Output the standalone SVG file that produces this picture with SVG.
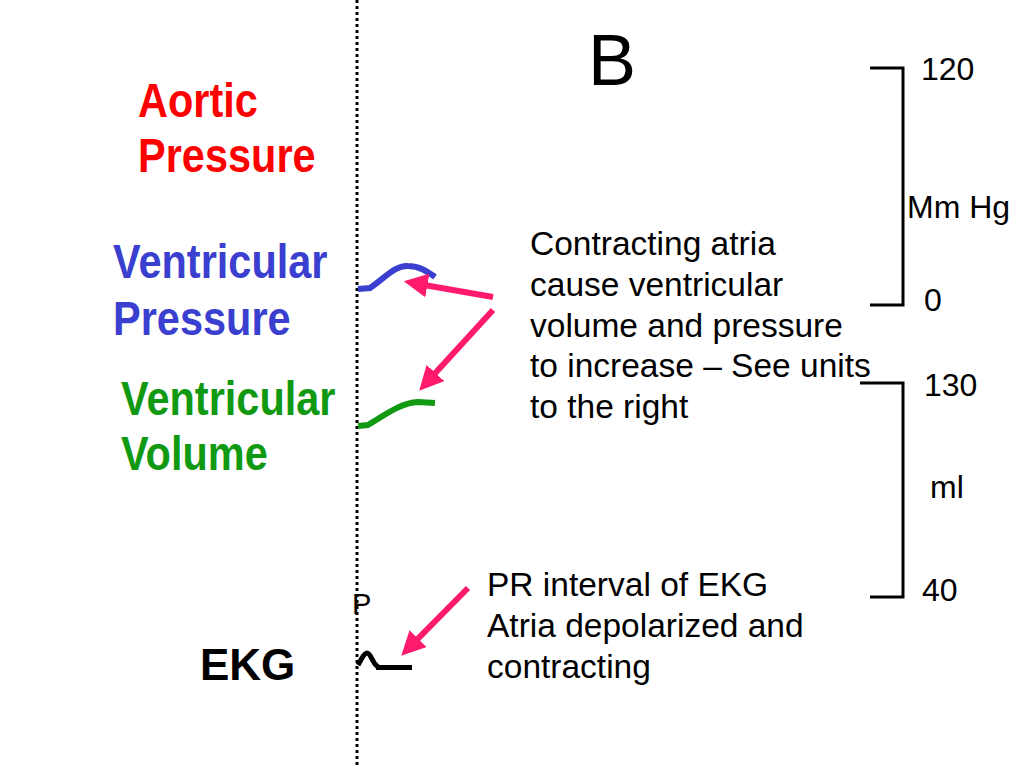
<svg xmlns="http://www.w3.org/2000/svg" width="1024" height="768" viewBox="0 0 1024 768">
<defs>
<style>
text{font-family:"Liberation Sans",Arial,sans-serif}
.lbl{font-size:41.5px;font-weight:bold}
.red{fill:#ff0000}
.blue{fill:#3a3fcf}
.green{fill:#119911}
.body{font-size:33.5px;fill:#000}
.num{font-size:32px;fill:#000}
.br{fill:none;stroke:#000;stroke-width:3}
.arr{stroke:#ff1a6e;stroke-width:6;fill:none}
</style>
<marker id="ah" markerWidth="4" markerHeight="4" refX="0.3" refY="2" orient="auto" markerUnits="strokeWidth"><path d="M0,0 L4,2 L0,4 z" fill="#ff1a6e"/></marker>
</defs>
<rect width="1024" height="768" fill="#fff"/>
<line x1="357" y1="0" x2="357" y2="768" stroke="#000" stroke-width="3" stroke-dasharray="3,3"/>
<text x="588" y="85" style="font-size:72px">B</text>
<g id="aortic">
<text class="lbl red" transform="translate(138,117) scale(1,1.15)">Aortic</text>
<text class="lbl red" transform="translate(138,172) scale(1,1.15)">Pressure</text>
</g>
<g id="ventp">
<text class="lbl blue" transform="translate(113,278) scale(1,1.15)">Ventricular</text>
<text class="lbl blue" transform="translate(113,335) scale(1,1.15)">Pressure</text>
<path d="M358,289 L370,288 C385,278 395,265 408,266 C420,266 428,272 435,277" fill="none" stroke="#3a3fcf" stroke-width="6"/>
</g>
<g id="ventv">
<text class="lbl green" transform="translate(121,415) scale(1,1.15)">Ventricular</text>
<text class="lbl green" transform="translate(121,470) scale(1,1.15)">Volume</text>
<path d="M358,426 L368,425 C385,415 400,403 418,402 L435,403" fill="none" stroke="#119911" stroke-width="6"/>
</g>
<g id="ekg"><text x="200" y="680" style="font-size:44px;font-weight:bold">EKG</text>
<text x="352" y="614" style="font-size:29px">P</text>
<path d="M358,665 C361,660 364,653 367,653 C370,653 372,660 375,664 L378,667" fill="none" stroke="#000" stroke-width="5"/>
<line x1="376" y1="667.5" x2="412" y2="667.5" stroke="#000" stroke-width="5"/></g>
<g id="note1"><text class="body"><tspan x="530" y="255">Contracting atria</tspan><tspan x="530" y="296">cause ventricular</tspan><tspan x="530" y="337">volume and pressure</tspan><tspan x="530" y="377">to increase – See units</tspan><tspan x="530" y="418">to the right</tspan></text></g>
<g id="note2"><text class="body"><tspan x="487" y="596">PR interval of EKG</tspan><tspan x="487" y="637">Atria depolarized and</tspan><tspan x="487" y="678">contracting</tspan></text></g>
<g id="scale1"><path class="br" d="M870,68 H903 V305 H870"/>
<text class="num" x="921" y="80">120</text><text class="num" x="907" y="218">Mm Hg</text><text class="num" x="924" y="311">0</text></g>
<g id="scale2"><path class="br" d="M860,383 H903 V597 H870"/>
<text class="num" x="924" y="396">130</text><text class="num" x="930" y="498">ml</text><text class="num" x="922" y="601">40</text></g>
<g id="connectors">
<line class="arr" x1="493" y1="297" x2="425.6" y2="285.2" marker-end="url(#ah)"/>
<line class="arr" x1="493" y1="310" x2="434.2" y2="374.3" marker-end="url(#ah)"/>
<line class="arr" x1="468" y1="588" x2="416.8" y2="639.9" marker-end="url(#ah)"/>
</g>
</svg>
